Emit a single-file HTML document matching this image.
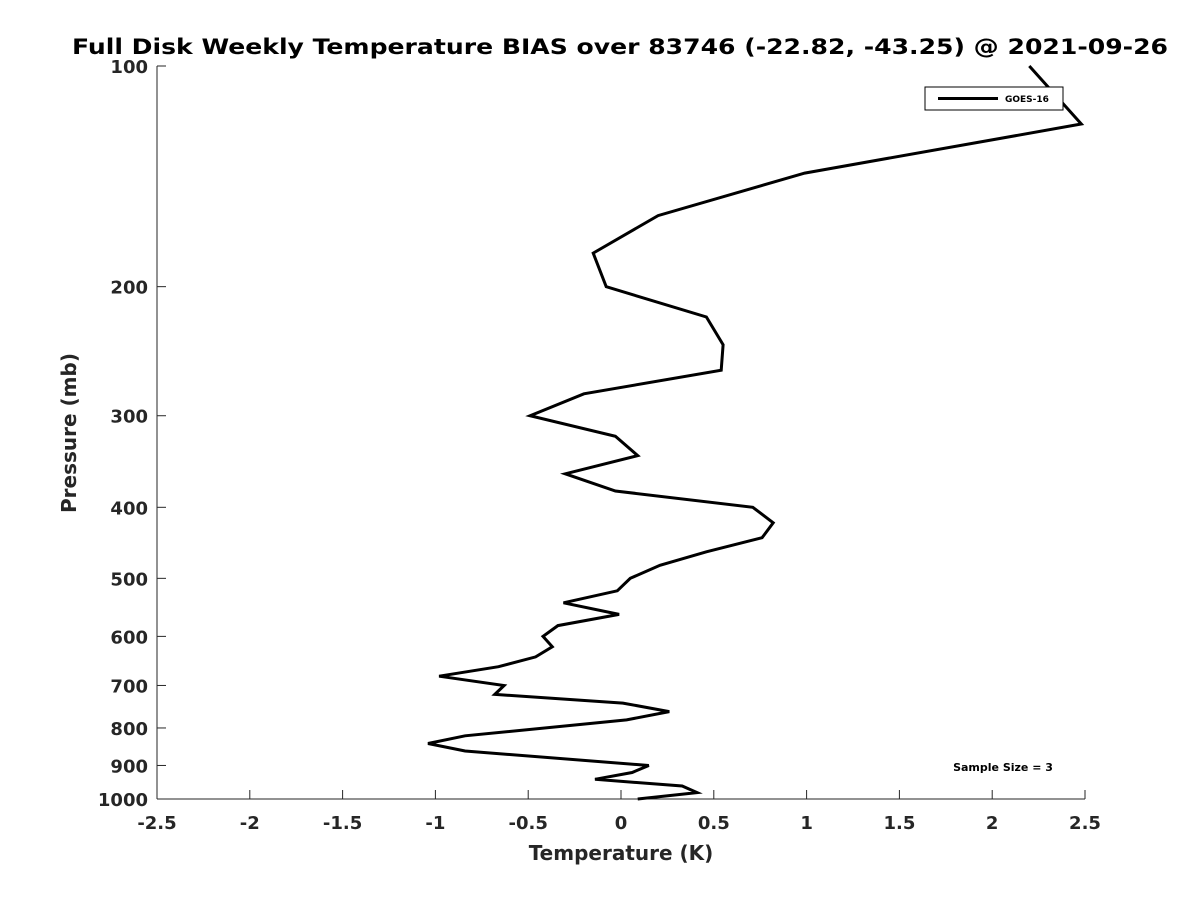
<!DOCTYPE html>
<html><head><meta charset="utf-8"><style>
body{margin:0;background:#fff}
svg{display:block;font-family:"DejaVu Sans","Liberation Sans",sans-serif}
</style></head><body>
<svg id="chart" width="1200" height="900" xmlns="http://www.w3.org/2000/svg">
<rect width="1200" height="900" fill="#fff"/>
<text x="620" y="54" text-anchor="middle" font-size="21" font-weight="bold" fill="#000" textLength="1096" lengthAdjust="spacingAndGlyphs">Full Disk Weekly Temperature BIAS over 83746 (-22.82, -43.25) @ 2021-09-26</text>
<g id="axes"></g>
<g id="plot"></g>
<g>
<rect x="925" y="87" width="138" height="23" fill="#fff" stroke="#000" stroke-width="1"/>
<line x1="938" y1="98.5" x2="998" y2="98.5" stroke="#000" stroke-width="3"/>
<text x="1005" y="102" font-size="9" font-weight="bold" fill="#000">GOES-16</text>
</g>
<text x="1003" y="771" text-anchor="middle" font-size="11" font-weight="bold" fill="#000">Sample Size = 3</text>
<text x="621" y="860" text-anchor="middle" font-size="20" font-weight="bold" fill="#262626">Temperature (K)</text>
<text transform="translate(76,433) rotate(-90)" text-anchor="middle" font-size="20" font-weight="bold" fill="#262626">Pressure (mb)</text>
</svg>
<script>
const xTicks=[-2.5,-2,-1.5,-1,-0.5,0,0.5,1,1.5,2,2.5];
const yTicks=[100,200,300,400,500,600,700,800,900,1000];
const pressures=[100,120,140,160,180,200,220,240,260,280,300,320,340,360,380,400,420,440,460,480,500,520,540,560,580,600,620,640,660,680,700,720,740,760,780,820,840,860,900,920,940,960,980,1000];
const bias=[2.20,2.48,0.99,0.20,-0.15,-0.08,0.46,0.55,0.54,-0.20,-0.49,-0.03,0.09,-0.30,-0.03,0.71,0.82,0.76,0.46,0.21,0.05,-0.02,-0.31,-0.01,-0.34,-0.42,-0.37,-0.46,-0.66,-0.98,-0.63,-0.68,0.01,0.26,0.03,-0.84,-1.04,-0.84,0.15,0.06,-0.14,0.33,0.41,0.09];
const NS="http://www.w3.org/2000/svg";
const X0=157,X1=1085,Y0=66,Y1=799;
function xs(v){return X0+(v+2.5)/5*(X1-X0);}
function ys(p){return Y0+Math.log10(p/100)*(Y1-Y0);}
function mk(tag,attrs,parent){const e=document.createElementNS(NS,tag);for(const k in attrs)e.setAttribute(k,attrs[k]);parent.appendChild(e);return e;}
const axes=document.getElementById('axes');
const ax=mk('line',{x1:X0,y1:Y1,x2:X1,y2:Y1,stroke:'#262626','stroke-width':1},axes);


const ay=mk('line',{x1:X0,y1:Y0,x2:X0,y2:Y1,stroke:'#262626','stroke-width':1},axes);


xTicks.forEach(v=>{
  const x=xs(v);
  const t=mk('line',{x1:x,y1:Y1,x2:x,y2:Y1-9,stroke:'#262626'},axes);
  
  
  const l=mk('text',{x:x,y:829,'text-anchor':'middle','font-size':18,'font-weight':'bold',fill:'#262626'},axes);
  l.textContent=String(v);
  
  
});
yTicks.forEach(p=>{
  const y=ys(p);
  const t=mk('line',{x1:X0,y1:y,x2:X0+9,y2:y,stroke:'#262626'},axes);
  
  
  const l=mk('text',{x:148,y:y+7,'text-anchor':'end','font-size':18,'font-weight':'bold',fill:'#262626'},axes);
  l.textContent=String(p);
  
  
});
const pts=pressures.map((p,i)=>xs(bias[i]).toFixed(1)+','+ys(p).toFixed(1)).join(' ');
const line=mk('polyline',{points:pts,fill:'none',stroke:'#000','stroke-width':3,'stroke-linejoin':'miter'},document.getElementById('plot'));


</script>
</body></html>
